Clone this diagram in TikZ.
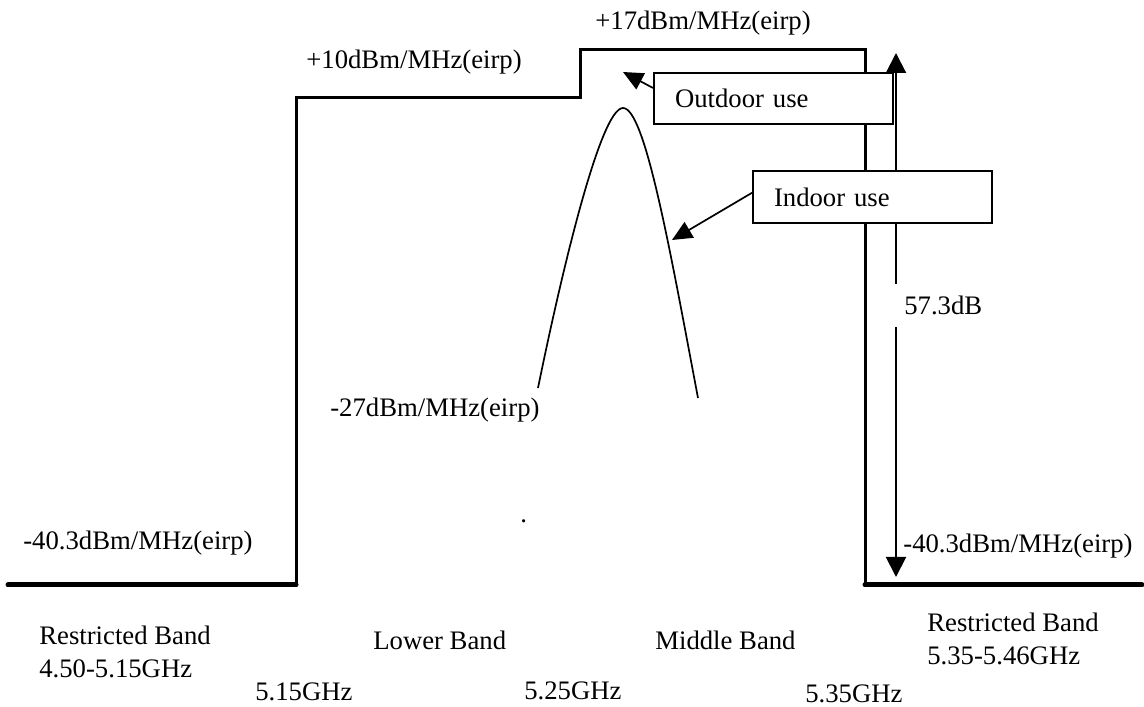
\documentclass[tikz,border=0pt]{standalone}
\usepackage{fontspec}
\setmainfont{Liberation Serif}
\usetikzlibrary{arrows.meta}
\tikzset{
  usebox/.style={draw, fill=white, line width=0.04cm, anchor=north west,
    text width=3.940000cm, inner xsep=0.420000cm, inner ysep=0cm, align=left},
  callout/.style={line width=0.034cm, -{Triangle[length=0.400000cm,width=0.360000cm]}},
  levellabel/.style={anchor=base west, inner sep=0cm}
}
\begin{document}
\begin{tikzpicture}
                    \useasboundingbox (0,0) rectangle (22.880000,14.140000);
                    {\fontsize{15.2}{18.8}\selectfont

                    % Drawing floor of restricted band 4.50-5.15
                    \draw [line width=0.100000cm, line cap=round] (0.160000,2.440000) -- (5.920000,2.440000);%

                    % Drawing mask of lower and middle band
                    \draw [line width=0.060000cm] (5.920000,2.440000) -- (5.920000,12.180000) -- (11.600000,12.180000)
                        -- (11.600000,13.140000) -- (17.300000,13.140000) -- (17.300000,2.440000);%

                    % Drawing floor of restricted band 5.35-5.46
                    \draw [line width=0.100000cm, line cap=round] (17.300000,2.440000) -- (22.840000,2.440000);%

                    % Drawing spectrum
                    \draw [line width=0.034000cm] (10.760000,6.380000) .. controls (11.200000,8.540000) and (12.000000,11.980000) .. (12.460000,11.980000)
                        .. controls (12.900000,11.980000) and (13.400000,9.140000) .. (13.960000,6.180000);%

                    % Drawing span 57.3dB
                    \coordinate (spantop) at (17.920000,13.080000);
                    \coordinate (spanbot) at (17.920000,2.600000);
                    \draw [line width=0.040000cm, {Triangle[length=0.400000cm,width=0.400000cm]}-{Triangle[length=0.400000cm,width=0.400000cm]}] (spanbot) -- (spantop);%
                    \node (span) [anchor=base west, fill=white, inner xsep=0.200000cm, inner ysep=0.240000cm] at (17.880000,7.840000) {57.3dB};%

                    % Marking use by boxes
                    \node (outdoor) [usebox, minimum height=1.020000cm] at (13.060000,12.700000) {Outdoor use};%
                    \node (indoor) [usebox, minimum height=1.040000cm] at (15.040000,10.740000) {Indoor use};%
                    \coordinate (outtip) at (12.460000,12.700000);
                    \coordinate (intip) at (13.440000,9.340000);
                    \draw [callout] (outdoor.175) -- (outtip);%
                    \draw [callout] (indoor.178) -- (intip);%

                    % Marking levels
                    \node (lvl17) [levellabel] at (11.900000,13.540000) {+17dBm/MHz(eirp)};%
                    \node (lvl10) [levellabel] at (6.120000,12.760000) {+10dBm/MHz(eirp)};%
                    \node (lvl27) [levellabel] at (6.600000,5.800000) {-27dBm/MHz(eirp)};%
                    \node (lvlleft) [levellabel] at (0.460000,3.140000) {-40.3dBm/MHz(eirp)};%
                    \node (lvlright) [levellabel] at (18.060000,3.080000) {-40.3dBm/MHz(eirp)};%
                    \node (dot) [levellabel] at (10.400000,3.680000) {.};%

                    % Marking bands
                    \node (bandrl) [levellabel, align=left] at (0.780000,0.580000) {Restricted Band\\4.50-5.15GHz};%
                    \node (bandlow) [levellabel] at (7.460000,1.140000) {Lower Band};%
                    \node (bandmid) [levellabel] at (13.100000,1.140000) {Middle Band};%
                    \node (bandrr) [levellabel, align=left] at (18.540000,0.840000) {Restricted Band\\5.35-5.46GHz};%

                    % Marking frequencies
                    \node (f515) [levellabel] at (5.100000,0.120000) {5.15GHz};%
                    \node (f525) [levellabel] at (10.480000,0.140000) {5.25GHz};%
                    \node (f535) [levellabel] at (16.100000,0.080000) {5.35GHz};%
                    }
                    \end{tikzpicture}
\end{document}
